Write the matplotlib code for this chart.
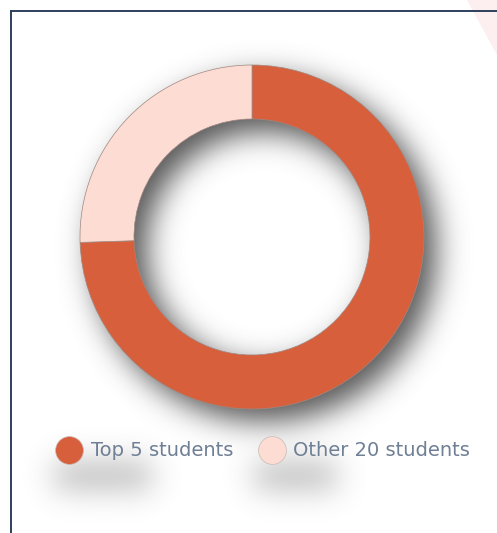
"""Donut chart: share of the top 5 students vs the other 20."""
import numpy as np
import matplotlib
matplotlib.use("Agg")
import matplotlib.pyplot as plt
from matplotlib.lines import Line2D
from matplotlib.patches import Polygon

labels = ["Top 5 students", "Other 20 students"]
values = [74.5, 25.5]
colors = ["#d85f3c", "#fddcd3"]

W, H = 497, 533
CX, CY = 252, H - 237      # donut centre (pixel coords, y up)
R_OUT, R_IN = 172, 118


def blur(img, sigma):
    k = np.arange(-3 * sigma, 3 * sigma + 1)
    g = np.exp(-k ** 2 / (2.0 * sigma ** 2))
    g /= g.sum()
    img = np.apply_along_axis(lambda r: np.convolve(r, g, mode="same"), 1, img)
    return np.apply_along_axis(lambda c: np.convolve(c, g, mode="same"), 0, img)


def shadow_layer():
    yy, xx = np.mgrid[0:H, 0:W]
    yy = H - yy                       # flip to y-up
    m = np.zeros((H, W))
    dx, dy = 12, -12
    d = np.hypot(xx - CX - dx, yy - CY - dy)
    m[(d <= R_OUT) & (d >= R_IN)] = 1.0
    # blobs under the legend entries
    for x0, x1 in [(55, 150), (255, 335)]:
        m[(xx >= x0) & (xx <= x1) & (yy >= H - 488) & (yy <= H - 462)] = 0.4
    m = blur(m, 15)
    rgba = np.zeros((H, W, 4))
    rgba[..., :3] = 0.33
    rgba[..., 3] = np.clip(m * 1.0, 0, 1)
    return rgba


fig = plt.figure(figsize=(W / 100, H / 100), dpi=100)
ax = fig.add_axes([0, 0, 1, 1])

ax.add_patch(Polygon([(467, H), (W, H), (W, H - 55)], closed=True,
                     facecolor="#fdeef0", edgecolor="none", zorder=0))
ax.imshow(shadow_layer(), extent=(0, W, 0, H), origin="upper", zorder=1,
          interpolation="bilinear")

ax.pie(values, colors=colors, startangle=90, counterclock=False,
       center=(CX, CY), radius=R_OUT,
       wedgeprops=dict(width=R_OUT - R_IN, edgecolor="#a08880", linewidth=0.5,
                       zorder=2))

# frame lines (left and top only visible)
ax.plot([11, 11], [-5, H - 11], color="#2e3f5c", lw=1.4, zorder=3)
ax.plot([11, W + 5], [H - 11, H - 11], color="#2e3f5c", lw=1.4, zorder=3)

handles = [Line2D([], [], marker="o", ls="", markersize=20,
                  markerfacecolor=c, markeredgecolor="#c9b9b4",
                  markeredgewidth=0.5) for c in colors]
leg = ax.legend(handles, labels, loc="center", ncol=2, frameon=False,
                bbox_to_anchor=(261 / W, (H - 451) / H),
                handletextpad=0.2, columnspacing=1.1, handlelength=1.8,
                prop=dict(family="DejaVu Sans", size=14))
for t in leg.get_texts():
    t.set_color("#6f7f95")

ax.set_xlim(0, W)
ax.set_ylim(0, H)
ax.set_aspect("auto")
ax.axis("off")

fig.savefig("out.png", dpi=100)
